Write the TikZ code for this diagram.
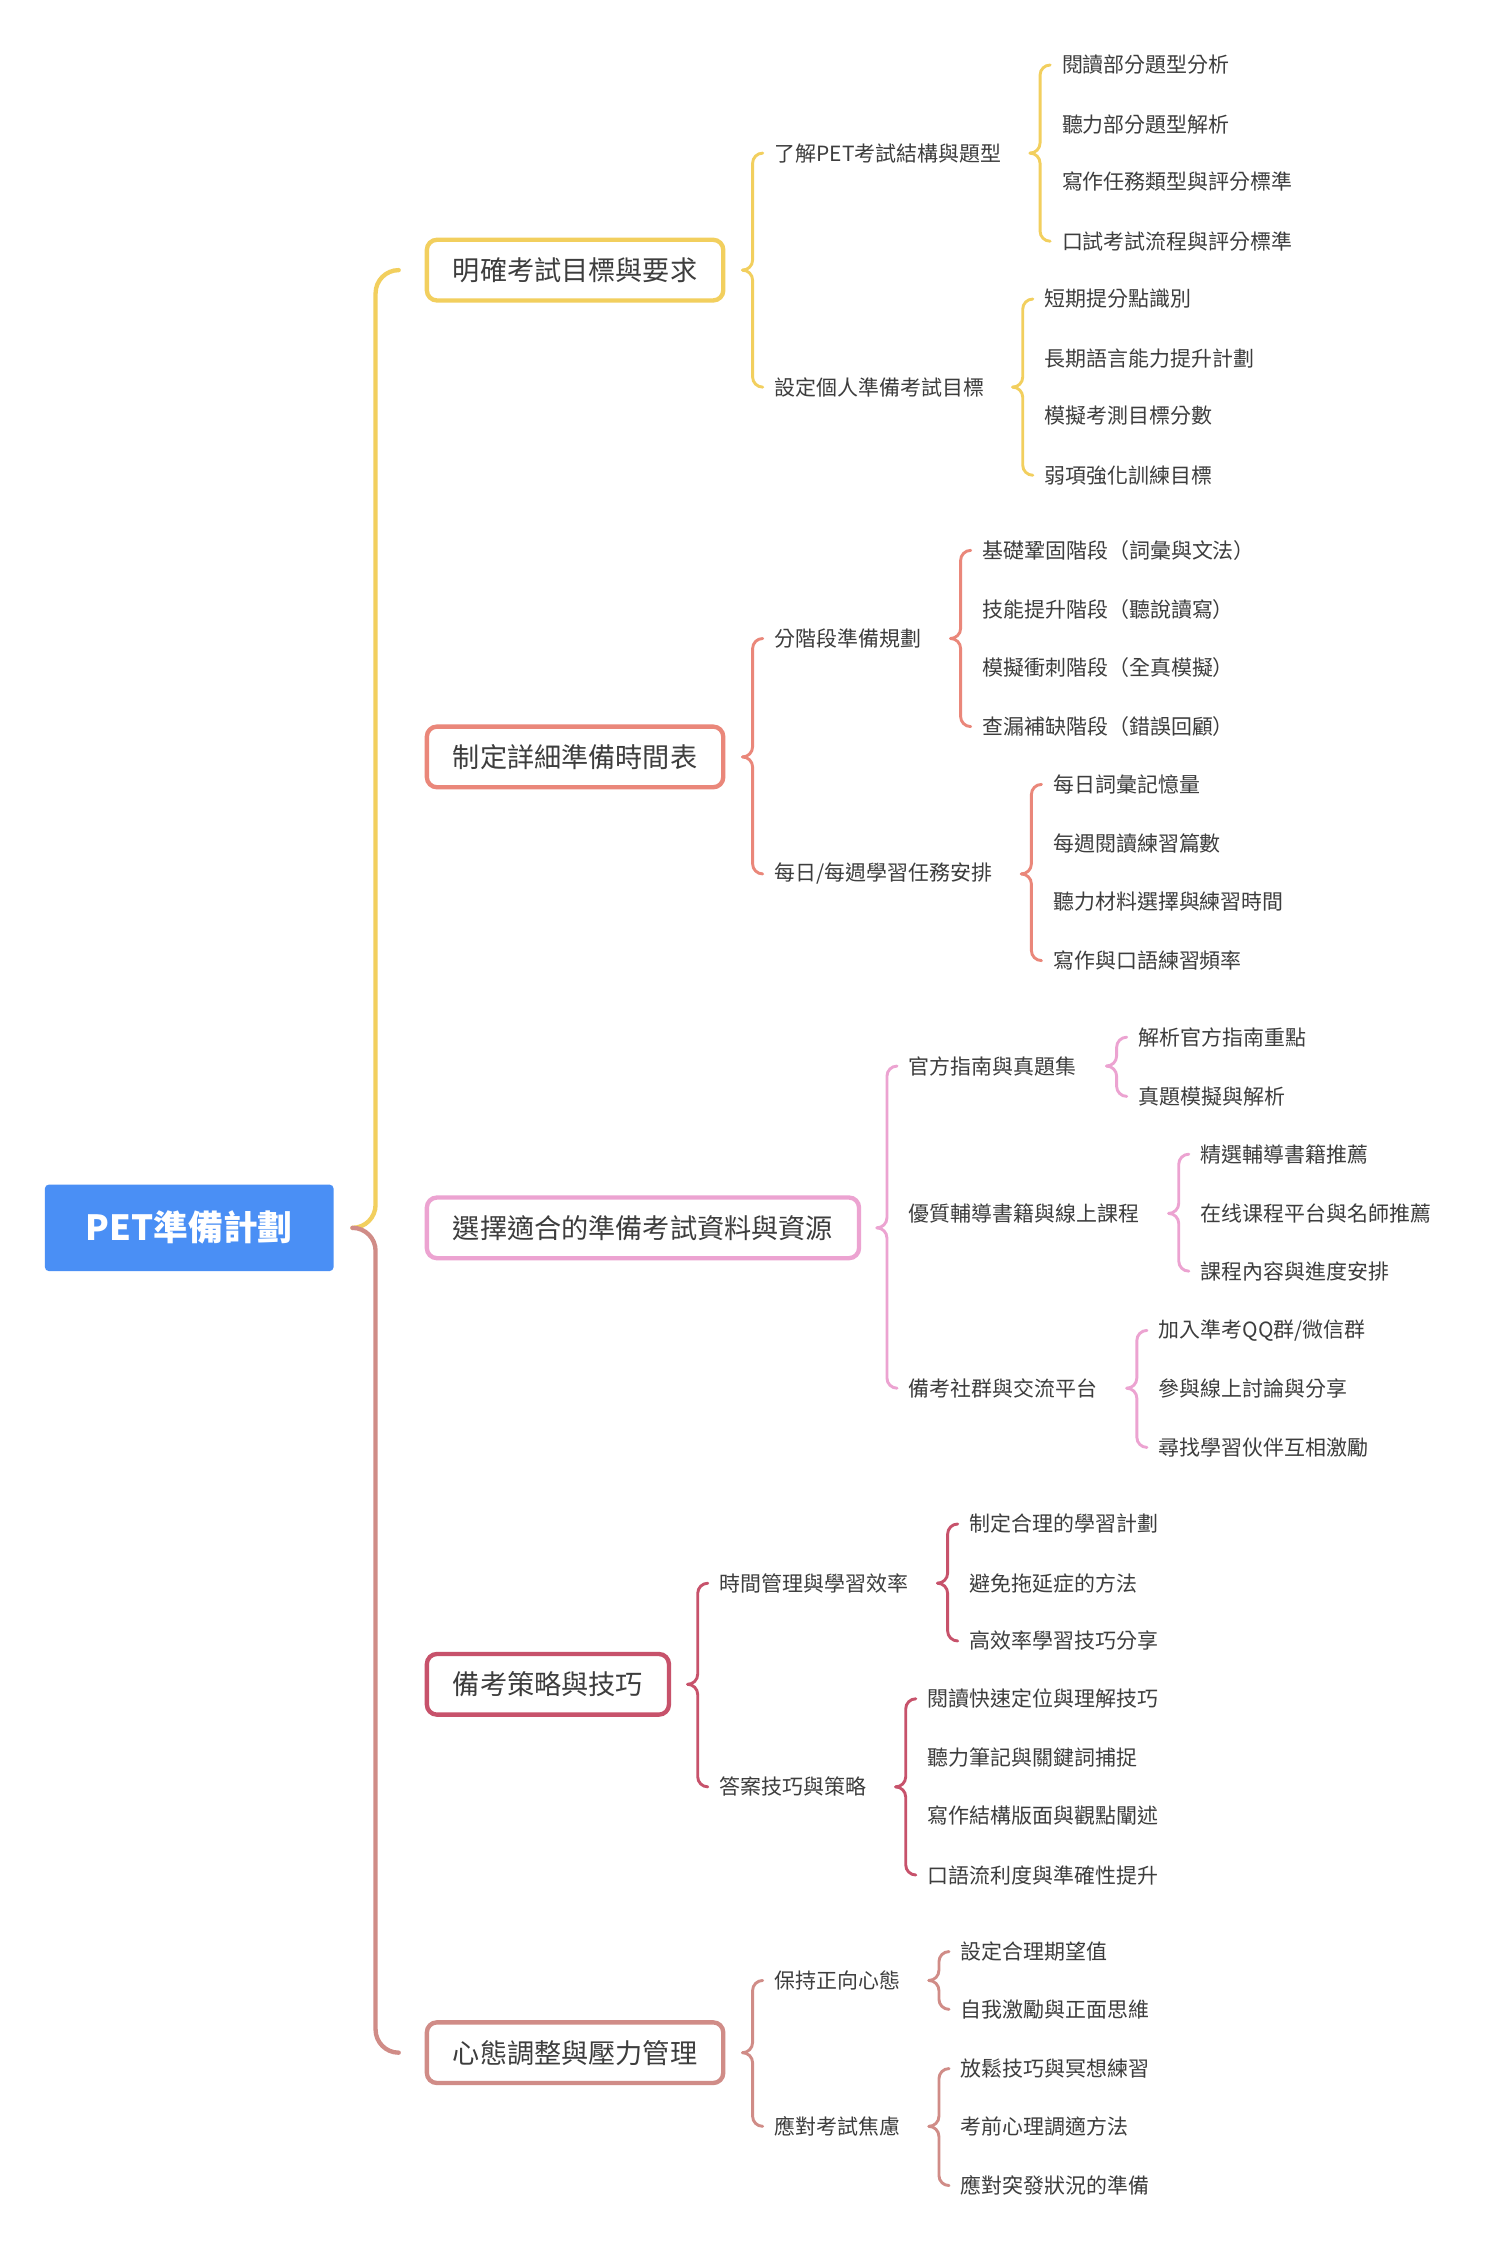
\documentclass[tikz,border=0pt]{standalone}
\usepackage{fontspec}
\setmainfont{Noto Sans CJK TC}
\usetikzlibrary{calc}
\definecolor{rootc}{HTML}{4A8FF5}
\definecolor{cA}{HTML}{F2CF5E}
\definecolor{cB}{HTML}{EA877A}
\definecolor{cC}{HTML}{ECA3D1}
\definecolor{cD}{HTML}{C7526B}
\definecolor{cE}{HTML}{D08C87}
\definecolor{txt}{HTML}{3D3D3D}
\newcommand\brc[7]{%
  \draw[#1, rounded corners=#7] let \p1=(#4.west), \p3=(#3.center) in
    (\x1-#6pt+#7pt,\y1) -- (\x1-#6pt,\y1) -- (\x1-#6pt,\y3) -- (\x1-#6pt-#7pt,\y3);
  \draw[#2, rounded corners=#7] let \p1=(#5.west), \p3=(#3.center) in
    (\x1-#6pt+#7pt,\y1) -- (\x1-#6pt,\y1) -- (\x1-#6pt,\y3) -- (\x1-#6pt-#7pt,\y3);
}
\begin{document}
\begin{tikzpicture}[x=1pt,y=-1pt,
  rootbox/.style={fill=rootc, rounded corners=3pt, minimum width=200pt, minimum height=60pt,
    text=white, font=\fontsize{24}{28}\selectfont\bfseries, inner sep=0pt},
  mainbox/.style={draw=#1, line width=3pt, fill=white, rounded corners=7pt, anchor=west,
    minimum height=42pt, inner xsep=18pt, inner ysep=0pt, text=txt,
    font=\fontsize{18.8}{22}\selectfont},
  leaf/.style={anchor=west, inner sep=0pt, text=txt, font=\fontsize{14.5}{17}\selectfont},
  br/.style={line width=2pt, line cap=round},
  rbr/.style={line width=3pt, line cap=round}
]
\useasboundingbox (0,0) rectangle (1029,1568);
\fill[white] (0,0) rectangle (1029,1568);

% root
\node[rootbox] (root) at (131,850) {PET準備計劃};

% main branches
\node[mainbox=cA] (b1) at (294,187) {明確考試目標與要求};
\node[mainbox=cB] (b2) at (294,524) {制定詳細準備時間表};
\node[mainbox=cC] (b3) at (294,850) {選擇適合的準備考試資料與資源};
\node[mainbox=cD] (b4) at (294,1166) {備考策略與技巧};
\node[mainbox=cE] (b5) at (294,1421) {心態調整與壓力管理};

% branch 1
\node[leaf] (b1a) at (536,106) {了解PET考試結構與題型};
\node[leaf] (b1b) at (536,268) {設定個人準備考試目標};
\node[leaf] (b1a1) at (735,45) {閱讀部分題型分析};
\node[leaf] (b1a2) at (735,86) {聽力部分題型解析};
\node[leaf] (b1a3) at (735,126) {寫作任務類型與評分標準};
\node[leaf] (b1a4) at (735,167) {口試考試流程與評分標準};
\node[leaf] (b1b1) at (723,207) {短期提分點識別};
\node[leaf] (b1b2) at (723,248) {長期語言能力提升計劃};
\node[leaf] (b1b3) at (723,288) {模擬考測目標分數};
\node[leaf] (b1b4) at (723,329) {弱項強化訓練目標};

% branch 2
\node[leaf] (b2a) at (536,442) {分階段準備規劃};
\node[leaf] (b2b) at (536,605) {每日/每週學習任務安排};
\node[leaf] (b2a1) at (680,381) {基礎鞏固階段（詞彙與文法）};
\node[leaf] (b2a2) at (680,422) {技能提升階段（聽說讀寫）};
\node[leaf] (b2a3) at (680,462) {模擬衝刺階段（全真模擬）};
\node[leaf] (b2a4) at (680,503) {查漏補缺階段（錯誤回顧）};
\node[leaf] (b2b1) at (729,543) {每日詞彙記憶量};
\node[leaf] (b2b2) at (729,584) {每週閱讀練習篇數};
\node[leaf] (b2b3) at (729,624) {聽力材料選擇與練習時間};
\node[leaf] (b2b4) at (729,665) {寫作與口語練習頻率};

% branch 3
\node[leaf] (b3a) at (629,738) {官方指南與真題集};
\node[leaf] (b3b) at (629,840) {優質輔導書籍與線上課程};
\node[leaf] (b3c) at (629,961) {備考社群與交流平台};
\node[leaf] (b3a1) at (788,718) {解析官方指南重點};
\node[leaf] (b3a2) at (788,759) {真題模擬與解析};
\node[leaf] (b3b1) at (831,799) {精選輔導書籍推薦};
\node[leaf] (b3b2) at (831,840) {在线课程平台與名師推薦};
\node[leaf] (b3b3) at (831,880) {課程內容與進度安排};
\node[leaf] (b3c1) at (802,921) {加入準考QQ群/微信群};
\node[leaf] (b3c2) at (802,961) {參與線上討論與分享};
\node[leaf] (b3c3) at (802,1002) {尋找學習伙伴互相激勵};

% branch 4
\node[leaf] (b4a) at (498,1096) {時間管理與學習效率};
\node[leaf] (b4b) at (498,1237) {答案技巧與策略};
\node[leaf] (b4a1) at (671,1055) {制定合理的學習計劃};
\node[leaf] (b4a2) at (671,1096) {避免拖延症的方法};
\node[leaf] (b4a3) at (671,1136) {高效率學習技巧分享};
\node[leaf] (b4b1) at (642,1176) {閱讀快速定位與理解技巧};
\node[leaf] (b4b2) at (642,1217) {聽力筆記與關鍵詞捕捉};
\node[leaf] (b4b3) at (642,1257) {寫作結構版面與觀點闡述};
\node[leaf] (b4b4) at (642,1298) {口語流利度與準確性提升};

% branch 5
\node[leaf] (b5a) at (536,1371) {保持正向心態};
\node[leaf] (b5b) at (536,1472) {應對考試焦慮};
\node[leaf] (b5a1) at (665,1351) {設定合理期望值};
\node[leaf] (b5a2) at (665,1391) {自我激勵與正面思維};
\node[leaf] (b5b1) at (665,1432) {放鬆技巧與冥想練習};
\node[leaf] (b5b2) at (665,1472) {考前心理調適方法};
\node[leaf] (b5b3) at (665,1513) {應對突發狀況的準備};

% braces
\brc{rbr,cA}{rbr,cE}{root}{b1}{b5}{34}{16}
\brc{br,cA}{br,cA}{b1}{b1a}{b1b}{15}{7}
\brc{br,cA}{br,cA}{b1a}{b1a1}{b1a4}{15}{7}
\brc{br,cA}{br,cA}{b1b}{b1b1}{b1b4}{15}{7}
\brc{br,cB}{br,cB}{b2}{b2a}{b2b}{15}{7}
\brc{br,cB}{br,cB}{b2a}{b2a1}{b2a4}{15}{7}
\brc{br,cB}{br,cB}{b2b}{b2b1}{b2b4}{15}{7}
\brc{br,cC}{br,cC}{b3}{b3a}{b3c}{15}{7}
\brc{br,cC}{br,cC}{b3a}{b3a1}{b3a2}{15}{7}
\brc{br,cC}{br,cC}{b3b}{b3b1}{b3b3}{15}{7}
\brc{br,cC}{br,cC}{b3c}{b3c1}{b3c3}{15}{7}
\brc{br,cD}{br,cD}{b4}{b4a}{b4b}{15}{7}
\brc{br,cD}{br,cD}{b4a}{b4a1}{b4a3}{15}{7}
\brc{br,cD}{br,cD}{b4b}{b4b1}{b4b4}{15}{7}
\brc{br,cE}{br,cE}{b5}{b5a}{b5b}{15}{7}
\brc{br,cE}{br,cE}{b5a}{b5a1}{b5a2}{15}{7}
\brc{br,cE}{br,cE}{b5b}{b5b1}{b5b3}{15}{7}
\end{tikzpicture}
\end{document}
